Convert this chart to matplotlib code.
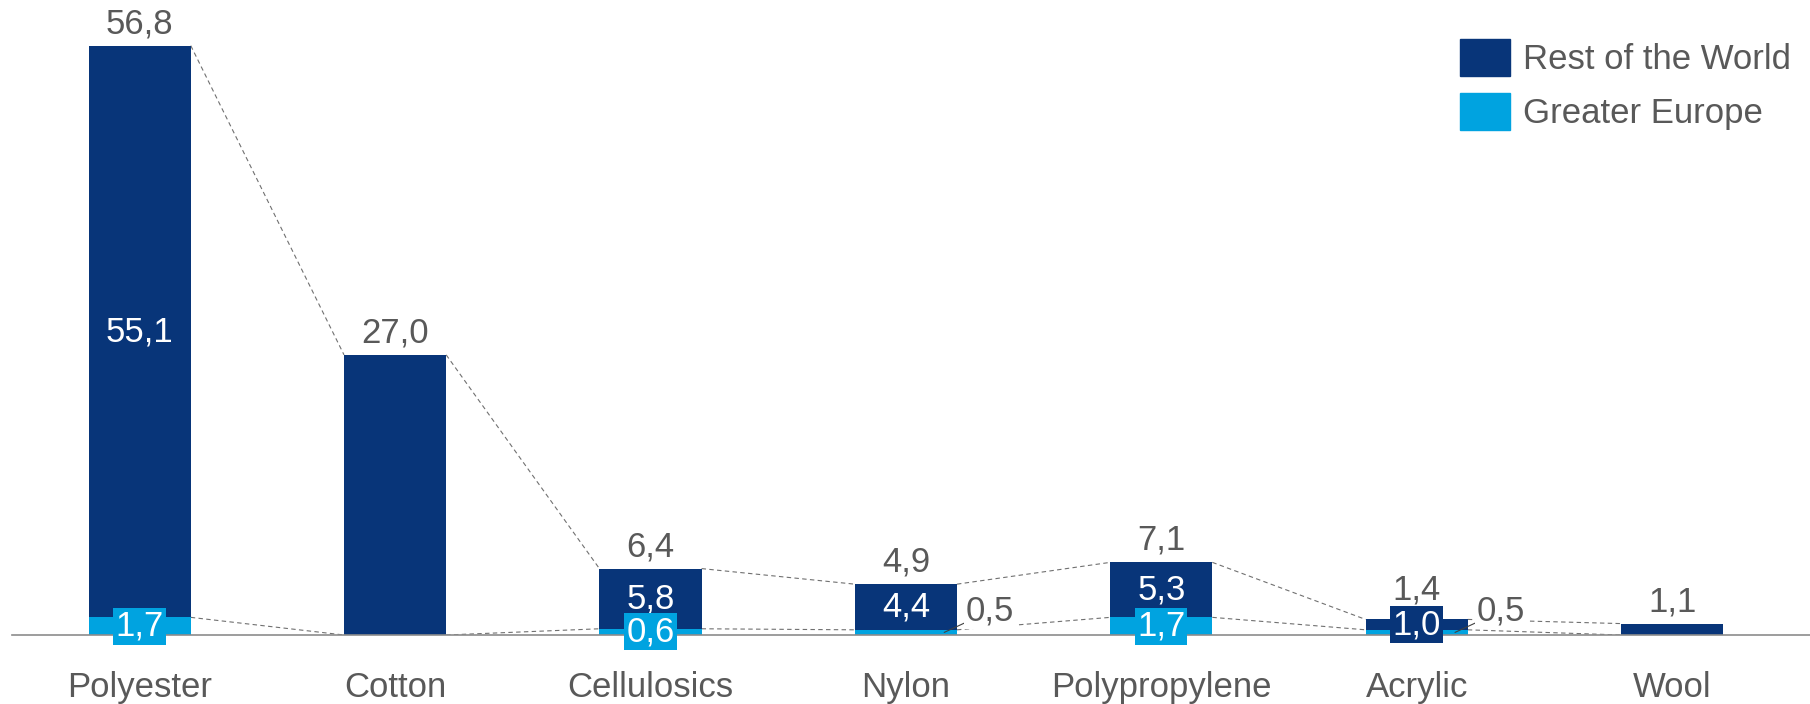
import matplotlib.pyplot as plt
from matplotlib.patches import Patch
import numpy as np

plt.rcParams['font.family'] = ['Liberation Sans', 'DejaVu Sans']

categories = ['Polyester', 'Cotton', 'Cellulosics', 'Nylon', 'Polypropylene', 'Acrylic', 'Wool']
europe = [1.7, 0.0, 0.6, 0.5, 1.7, 0.5, 0.0]
rest = [55.1, 27.0, 5.8, 4.4, 5.3, 1.0, 1.1]
totals = [56.8, 27.0, 6.4, 4.9, 7.1, 1.4, 1.1]

dark = '#083579'
light = '#00A3E0'
grey = '#595959'
line_grey = '#707070'
width = 0.4

def fmt(v):
    return f'{v:.1f}'.replace('.', ',')

fig = plt.figure(figsize=(18.1, 7.04), dpi=100)
ax = fig.add_axes([12/1810, 69/704, 1798/1810, 635/704])

x = np.arange(len(categories))
europe = np.array(europe)
rest = np.array(rest)
top = europe + rest

ax.bar(x, europe, width, color=light, zorder=2)
ax.bar(x, rest, width, bottom=europe, color=dark, zorder=2)

# dashed connectors between neighbouring bars
for i in range(len(x) - 1):
    xs = [x[i] + width/2, x[i+1] - width/2]
    ax.plot(xs, [top[i], top[i+1]], color=line_grey, lw=0.8,
            dashes=(4, 3), zorder=1)
    ax.plot(xs, [europe[i], europe[i+1]], color=line_grey, lw=0.8,
            dashes=(4, 3), zorder=1)

for i in range(len(x)):
    thin = europe[i] > 0 and rest[i] <= 2
    # total on top, lifted a bit when a boxed label sits in the bar
    ax.annotate(fmt(totals[i]), (x[i], top[i]), xytext=(0, 9 if thin else 4),
                textcoords='offset points', ha='center', va='bottom',
                fontsize=25, color=grey)
    if europe[i] == 0:
        continue
    # rest of world value
    if not thin:
        ax.text(x[i], europe[i] + rest[i]/2, fmt(rest[i]), ha='center',
                va='center', fontsize=25, color='white', zorder=4)
    else:
        ax.text(x[i], europe[i] + rest[i]/2, fmt(rest[i]), ha='center',
                va='center', fontsize=25, color='white', zorder=4,
                bbox=dict(boxstyle='square,pad=0.06', fc=dark, ec='none'))
    # greater europe value
    if europe[i] > 0.55:
        ax.text(x[i], europe[i]/2, fmt(europe[i]), ha='center', va='center',
                fontsize=25, color='white', zorder=4,
                bbox=dict(boxstyle='square,pad=0.06', fc=light, ec='none'))
    else:
        ax.annotate(fmt(europe[i]), (x[i] + 0.15, europe[i]/2),
                    xytext=(x[i] + 0.33, 2.3), ha='center', va='center',
                    fontsize=25, color=grey, zorder=4,
                    bbox=dict(boxstyle='square,pad=0.05', fc='white', ec='none'),
                    arrowprops=dict(arrowstyle='-', color='#404040', lw=0.8,
                                    shrinkA=0, shrinkB=0))

ax.set_xlim(-0.5, len(categories) - 0.46)
ax.set_ylim(0, 61.2)
ax.set_xticks(x)
ax.set_xticklabels(categories, fontsize=25, color=grey)
ax.tick_params(axis='x', length=0, pad=26)
ax.set_yticks([])
for s in ['left', 'right', 'top']:
    ax.spines[s].set_visible(False)
ax.spines['bottom'].set_color('#8c8c8c')
ax.spines['bottom'].set_linewidth(1.2)

handles = [Patch(color=dark), Patch(color=light)]
ax.legend(handles, ['Rest of the World', 'Greater Europe'], loc='upper left',
          bbox_to_anchor=(1460/1810, 1 - 39/704), bbox_transform=fig.transFigure,
          frameon=False, fontsize=25, labelcolor=grey, borderpad=0,
          borderaxespad=0, handlelength=1.45, handleheight=1.25,
          handletextpad=0.35, labelspacing=0.5)

fig.savefig('out.png', dpi=100)
